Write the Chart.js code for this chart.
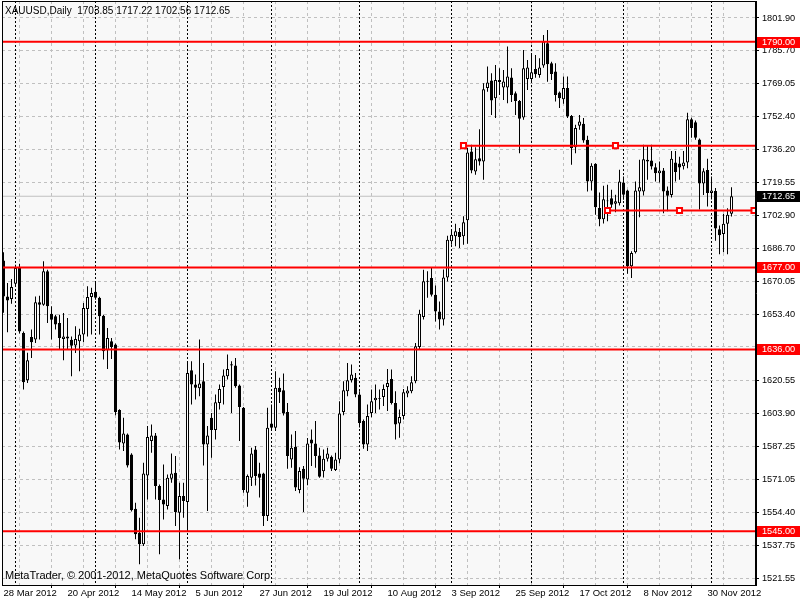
<!DOCTYPE html>
<html><head><meta charset="utf-8">
<script src="https://cdn.jsdelivr.net/npm/chart.js@4.4.0/dist/chart.umd.min.js"></script>
<style>
html,body{margin:0;padding:0;background:#fff;}
#wrap{position:relative;width:800px;height:600px;overflow:hidden;}
canvas{display:block;}
.lbl{position:absolute;font-family:"Liberation Sans",Arial,sans-serif;color:#000;white-space:pre;}
</style></head><body>
<div id="wrap"><canvas id="c" width="800" height="600"></canvas>
<div class="lbl" style="left:5px;top:6px;font-size:10px;line-height:10px">XAUUSD,Daily  1703.85 1717.22 1702.56 1712.65</div>
<div class="lbl" style="left:5px;top:570px;font-size:11px;line-height:11px">MetaTrader, © 2001-2012, MetaQuotes Software Corp.</div>
</div>
<script>
// ---- data (daily XAUUSD bars, index 0 = 28 Mar 2012) ----
const openP = [1680.5,1662.5,1661.2,1668.9,1676.8,1644.2,1620.6,1642.2,1640.9,1659.6,
1658.4,1675.1,1653.9,1652.6,1649.2,1641.2,1642.5,1640.8,1637.9,1640.1,
1643.4,1656.2,1662.2,1664.9,1661.8,1652.9,1635.6,1640.1,1638.4,1605.6,
1588.9,1593.4,1583.4,1556.2,1544.2,1538.4,1572.9,1590.1,1592.9,1567.6,
1560.9,1557.6,1571.2,1574.2,1554.2,1562.6,1559.6,1625.6,1618.4,1616.6,
1620.1,1588.4,1601.8,1595.6,1609.2,1617.2,1622.6,1628.6,1627.9,1617.9,
1606.8,1564.2,1571.8,1585.9,1573.9,1573.9,1552.6,1598.9,1596.8,1616.8,
1615.6,1604.6,1580.9,1587.2,1565.6,1576.2,1570.9,1590.9,1588.9,1582.9,
1575.0,1581.2,1582.2,1575.6,1580.9,1604.6,1615.1,1620.6,1621.8,1613.4,
1600.1,1588.4,1604.2,1610.6,1611.6,1612.2,1617.2,1621.2,1609.2,1598.9,
1602.6,1613.9,1615.1,1620.1,1637.2,1652.2,1669.9,1671.8,1663.4,1655.0,
1651.0,1672.0,1690.1,1692.6,1694.8,1692.6,1700.6,1735.1,1725.1,1731.7,
1730.1,1766.8,1770.6,1761.7,1770.9,1767.1,1767.1,1772.1,1764.2,1760.4,
1752.1,1771.4,1771.4,1776.4,1773.4,1778.1,1789.2,1779.2,1775.1,1764.6,
1761.2,1766.8,1752.9,1737.2,1747.9,1748.9,1740.9,1720.1,1728.9,1706.8,
1701.2,1710.1,1711.7,1708.9,1709.2,1719.6,1715.6,1677.6,1684.6,1715.1,
1715.1,1730.9,1730.6,1727.2,1724.2,1725.6,1715.6,1713.3,1729.6,1729.0,
1727.7,1729.6,1751.2,1749.65,1741.05,1719.05,1725.75,1714.25,1715.25,1696.1,
1693.8,1698.95,1703.85];
const highP = [1684.6,1669.2,1671.2,1678.4,1678.9,1644.9,1634.3,1645.9,1662.5,1662.9,
1680.1,1675.9,1657.6,1653.4,1653.4,1654.2,1651.7,1642.5,1647.6,1646.3,
1659.2,1667.6,1666.8,1669.9,1662.3,1653.4,1646.7,1641.7,1638.9,1606.0,
1601.8,1593.9,1584.0,1559.2,1551.7,1579.2,1597.6,1598.4,1594.2,1568.4,
1578.4,1573.4,1583.9,1582.6,1569.2,1569.2,1630.1,1630.1,1623.4,1640.9,
1629.2,1597.6,1604.2,1613.4,1618.4,1625.9,1633.4,1630.1,1631.7,1618.4,
1607.2,1573.4,1586.8,1587.6,1579.2,1574.2,1606.8,1608.4,1625.1,1621.8,
1623.9,1609.2,1593.4,1595.1,1577.0,1577.6,1591.7,1595.9,1600.1,1586.8,
1585.9,1586.8,1582.9,1584.2,1610.1,1620.1,1629.2,1628.4,1624.2,1615.1,
1600.9,1608.4,1615.9,1618.4,1615.9,1618.4,1626.2,1625.9,1615.1,1605.9,
1616.2,1617.6,1622.6,1639.2,1655.9,1675.9,1675.1,1676.8,1668.0,1660.0,
1676.0,1692.9,1695.9,1698.9,1696.8,1702.6,1736.8,1738.4,1737.2,1746.2,
1769.2,1777.6,1774.2,1778.4,1776.8,1775.9,1787.6,1776.8,1765.1,1760.9,
1785.9,1780.9,1783.4,1783.4,1781.8,1793.4,1795.9,1780.0,1779.2,1765.1,
1772.6,1772.6,1753.4,1748.4,1753.4,1751.8,1742.9,1729.2,1729.2,1714.6,
1717.9,1718.4,1715.9,1713.4,1725.9,1722.6,1715.9,1685.1,1720.1,1730.9,
1738.4,1737.9,1738.4,1729.2,1730.1,1726.8,1717.6,1735.3,1735.3,1732.5,
1735.3,1754.5,1751.95,1750.6,1741.6,1726.7,1731.5,1722.5,1716.75,1698.0,
1703.75,1706.6,1717.22];
const lowP = [1654.4,1644.6,1658.9,1667.4,1643.9,1615.9,1619.2,1631.7,1639.2,1640.9,
1657.9,1649.2,1640.9,1645.9,1635.9,1630.6,1635.9,1622.6,1634.2,1625.1,
1639.6,1642.5,1643.4,1660.9,1643.4,1630.9,1626.2,1631.2,1603.0,1585.9,
1585.1,1576.9,1554.9,1540.9,1528.4,1537.6,1560.9,1584.2,1560.9,1533.4,
1550.9,1555.9,1569.2,1547.6,1530.9,1551.7,1545.9,1608.4,1610.9,1612.6,
1577.9,1555.1,1581.7,1590.9,1605.9,1608.4,1620.9,1604.2,1616.8,1590.1,
1564.2,1557.2,1567.6,1567.9,1561.8,1547.6,1550.1,1595.9,1595.1,1609.2,
1602.9,1576.2,1576.8,1565.1,1564.0,1554.6,1568.0,1577.6,1576.8,1571.8,
1571.9,1579.9,1575.1,1575.1,1579.0,1603.0,1612.6,1619.4,1612.0,1596.9,
1586.2,1585.1,1602.0,1604.2,1605.9,1607.6,1605.1,1608.4,1590.9,1591.8,
1600.9,1612.0,1614.0,1619.0,1636.0,1651.0,1661.8,1662.5,1650.0,1646.0,
1648.0,1670.0,1688.4,1687.6,1686.8,1688.4,1688.9,1724.2,1723.4,1728.0,
1720.9,1765.0,1753.4,1751.8,1763.4,1760.9,1759.2,1759.9,1753.4,1734.2,
1750.9,1765.9,1770.0,1772.0,1772.0,1777.0,1770.0,1770.9,1760.1,1756.8,
1759.0,1751.8,1728.4,1734.2,1746.0,1739.4,1715.1,1715.6,1703.4,1697.6,
1699.0,1700.1,1706.9,1704.6,1708.0,1710.9,1673.9,1671.8,1684.0,1702.2,
1713.0,1720.9,1726.0,1720.1,1719.6,1704.2,1705.1,1712.0,1720.0,1720.95,
1726.0,1726.7,1742.0,1740.9,1706.05,1713.3,1707.55,1711.0,1690.35,1683.65,
1684.6,1683.65,1702.56];
const closeP = [1662.5,1660.5,1667.2,1676.8,1645.0,1619.5,1630.6,1639.6,1659.6,1658.3,
1675.1,1657.6,1650.9,1648.4,1641.7,1642.5,1641.5,1637.8,1641.2,1643.4,
1656.7,1662.2,1664.2,1661.8,1652.6,1635.1,1641.7,1637.2,1604.6,1589.4,
1593.9,1577.9,1555.5,1543.4,1538.4,1573.9,1592.2,1592.9,1567.6,1560.6,
1558.4,1571.8,1573.9,1554.6,1562.6,1560.1,1624.2,1618.4,1616.8,1618.9,
1588.4,1592.9,1595.6,1609.6,1616.2,1622.9,1626.2,1627.9,1617.6,1607.2,
1565.6,1572.6,1583.9,1572.6,1571.8,1552.6,1596.8,1596.8,1616.8,1614.6,
1603.9,1582.6,1586.8,1566.8,1575.1,1571.2,1588.9,1588.9,1582.6,1572.2,
1581.2,1583.9,1576.2,1580.9,1603.9,1615.6,1620.6,1623.4,1613.4,1599.2,
1588.4,1602.6,1610.1,1611.8,1611.2,1616.2,1619.2,1609.2,1598.4,1602.2,
1614.6,1615.4,1619.6,1637.6,1653.9,1670.1,1670.3,1663.4,1655.0,1651.0,
1672.0,1690.9,1693.4,1695.1,1692.3,1699.6,1734.6,1725.6,1731.2,1730.1,
1766.2,1769.6,1760.6,1770.9,1769.8,1770.1,1772.6,1763.4,1760.4,1751.4,
1776.8,1777.1,1774.8,1773.8,1777.1,1790.1,1778.8,1773.9,1763.4,1761.7,
1766.8,1752.6,1736.8,1746.8,1750.1,1740.6,1720.1,1727.9,1707.2,1701.2,
1711.2,1710.5,1708.4,1710.1,1720.1,1713.4,1677.6,1684.2,1715.6,1717.2,
1731.2,1730.1,1727.6,1724.2,1725.6,1715.1,1712.9,1731.5,1724.8,1727.1,
1729.6,1751.2,1746.8,1742.0,1719.05,1725.15,1714.25,1715.6,1696.5,1693.2,
1698.95,1703.35,1712.65];
const dateTickLabels = ["28 Mar 2012","20 Apr 2012","14 May 2012","5 Jun 2012","27 Jun 2012","19 Jul 2012",
"10 Aug 2012","3 Sep 2012","25 Sep 2012","17 Oct 2012","8 Nov 2012","30 Nov 2012"];
const priceTicks = [1801.90,1785.70,1769.05,1752.40,1736.20,1719.55,1702.90,1686.70,1670.05,1653.40,
1637.20,1620.55,1603.90,1587.25,1571.05,1554.40,1537.75,1521.55];
const levelPrices = [1790.00,1677.00,1636.00,1545.00];
const bidPrice = 1712.65;
const monthStartBars = [3,23,46,67,89,112,132,155,177];
const trendLines = [
  {bars:[115,153], price:1738.0, markers:[115,153]},
  {bars:[151,169], price:1705.5, markers:[151,169,188]}
];

// ---- layout constants ----
const X_MIN = -0.375, X_MAX = 188.125;
const Y_MIN = 1518.05, Y_MAX = 1810.41;
const FAM = '"Liberation Sans", Arial, sans-serif';
const gridBars = [];
for (let b = 0; b <= 184; b += 8) gridBars.push(b);

const idx = openP.map((_, i) => i);
const wickData = idx.map(i => ({x:i, y:[lowP[i], highP[i]]}));
const bodyData = idx.map(i => ({x:i, y:[openP[i], closeP[i]]}));
const bodyFill = idx.map(i => closeP[i] >= openP[i] ? '#ffffff' : '#000000');

const datasets = [];
datasets.push({type:'line', data:[{x:X_MIN,y:bidPrice},{x:X_MAX,y:bidPrice}], borderColor:'#c0c0c0', borderWidth:1, pointRadius:0, order:5});
datasets.push({type:'bar', data:wickData, backgroundColor:'#000', borderWidth:0, barThickness:1, grouped:false, inflateAmount:0, order:3});
datasets.push({type:'bar', data:bodyData, backgroundColor:bodyFill, borderColor:'#000', borderWidth:1, borderSkipped:false, barThickness:3, grouped:false, inflateAmount:0, order:2});
levelPrices.forEach(p => datasets.push({type:'line', data:[{x:X_MIN,y:p},{x:X_MAX,y:p}], borderColor:'#ff0000', borderWidth:2, pointRadius:0, order:1}));
trendLines.forEach(t => {
  datasets.push({type:'line', data:[{x:t.bars[0],y:t.price},{x:X_MAX,y:t.price}], borderColor:'#ff0000', borderWidth:2, pointRadius:0, order:1});
  datasets.push({type:'line', data:t.markers.map(b => ({x:Math.min(b, X_MAX-0.5), y:t.price})), showLine:false, pointStyle:'rect', pointRadius:3.6, borderColor:'#ff0000', backgroundColor:'#ffffff', borderWidth:2, order:0});
});

const decor = {
  id:'decor',
  beforeDraw(chart){
    const {ctx, chartArea:a} = chart;
    ctx.save();
    ctx.fillStyle = '#ffffff'; ctx.fillRect(0,0,800,600);
    ctx.fillStyle = '#f8f8f8'; ctx.fillRect(a.left, a.top, a.right-a.left, a.bottom-a.top);
    ctx.restore();
  },
  beforeDatasetsDraw(chart){
    const {ctx, chartArea:a, scales:{x}} = chart;
    ctx.save();
    ctx.strokeStyle = '#000'; ctx.lineWidth = 1; ctx.setLineDash([2,2]);
    monthStartBars.forEach(b => {
      const px = Math.floor(x.getPixelForValue(b)) + 0.5;
      ctx.beginPath(); ctx.moveTo(px, a.top); ctx.lineTo(px, a.bottom); ctx.stroke();
    });
    ctx.restore();
  },
  afterDraw(chart){
    const {ctx, chartArea:a, scales:{y}} = chart;
    ctx.save();
    ctx.strokeStyle = '#000'; ctx.lineWidth = 1; ctx.setLineDash([]);
    ctx.strokeRect(a.left + 0.5, a.top + 0.5, a.right - a.left - 1, a.bottom - a.top);
    ctx.font = '9.2px ' + FAM;
    ctx.textBaseline = 'middle';
    const tag = (p, bg) => {
      const py = Math.round(y.getPixelForValue(p));
      ctx.fillStyle = bg; ctx.fillRect(757, py - 5, 43, 11);
      ctx.fillStyle = '#ffffff'; ctx.fillText(p.toFixed(2), 762, py + 0.5);
    };
    levelPrices.forEach(p => tag(p, '#ff0000'));
    tag(bidPrice, '#000000');
    ctx.restore();
  }
};

new Chart(document.getElementById('c'), {
  data:{datasets},
  options:{
    responsive:false, animation:false, devicePixelRatio:1, events:[],
    layout:{autoPadding:false, padding:{left:2, top:1, right:0, bottom:0}},
    plugins:{legend:{display:false}, tooltip:{enabled:false}, title:{display:false}},
    scales:{
      x:{type:'linear', position:'bottom', min:X_MIN, max:X_MAX, offset:false,
        afterBuildTicks: s => { s.ticks = gridBars.map(v => ({value:v})); },
        afterFit: s => { s.height = 15; s.paddingLeft = 0; s.paddingRight = 0; s.paddingTop = 0; s.paddingBottom = 0; },
        ticks:{autoSkip:false, maxRotation:0, minRotation:0, align:'start', padding:0, color:'#000', font:{family:FAM, size:9.5},
          callback:(v, i) => (i % 2 === 0 && dateTickLabels[i/2]) ? dateTickLabels[i/2] : ''},
        grid:{color:'#c0c0c0', lineWidth:1, drawTicks:true, tickLength:3, tickBorderDash:[],
          tickColor: c => (c.index % 2 === 0 ? '#000' : 'rgba(0,0,0,0)')},
        border:{display:true, color:'#000', width:1, dash:[3,3]}
      },
      y:{type:'linear', position:'right', min:Y_MIN, max:Y_MAX,
        afterBuildTicks: s => { s.ticks = priceTicks.map(v => ({value:v})); },
        afterFit: s => { s.width = 44; s.paddingTop = 0; s.paddingBottom = 0; s.paddingLeft = 0; s.paddingRight = 0; },
        ticks:{autoSkip:false, padding:3, color:'#000', font:{family:FAM, size:9.2}, callback: v => Number(v).toFixed(2)},
        grid:{color:'#c0c0c0', lineWidth:1, drawTicks:true, tickLength:3, tickBorderDash:[], tickColor:'#000'},
        border:{display:true, color:'#000', width:1, dash:[3,3]}
      }
    }
  },
  plugins:[decor]
});
</script>
</body></html>
